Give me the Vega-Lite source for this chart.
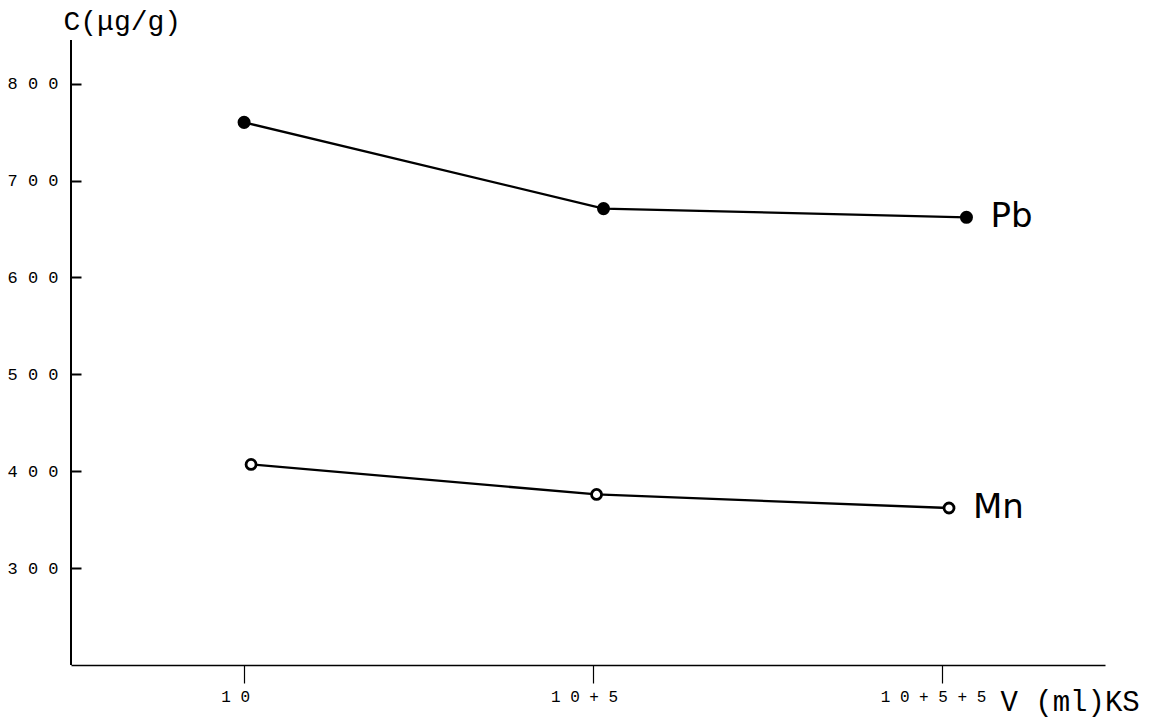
{
  "$schema": "https://vega.github.io/schema/vega-lite/v6.json",
  "width": 1034,
  "height": 625,
  "autosize": "none",
  "padding": {"left": 71, "top": 40, "right": 64, "bottom": 55},
  "background": "white",
  "config": {"view": {"stroke": null}},
  "data": {"values": [
    {"metal": "Pb", "x": 1.0, "volume": "10", "c": 760, "last": false},
    {"metal": "Pb", "x": 2.03, "volume": "10+5", "c": 671, "last": false},
    {"metal": "Pb", "x": 3.07, "volume": "10+5+5", "c": 662, "last": true},
    {"metal": "Mn", "x": 1.02, "volume": "10", "c": 407, "last": false},
    {"metal": "Mn", "x": 2.01, "volume": "10+5", "c": 376, "last": false},
    {"metal": "Mn", "x": 3.02, "volume": "10+5+5", "c": 362, "last": true}
  ]},
  "encoding": {
    "x": {
      "field": "x", "type": "quantitative",
      "scale": {"domain": [0.504, 3.467], "nice": false, "zero": false},
      "axis": {
        "values": [1, 2, 3],
        "labelExpr": "datum.value == 1 ? '1 0' : datum.value == 2 ? '1 0 + 5' : '1 0 + 5 + 5'",
        "grid": false, "domainColor": "black", "domainWidth": 1.5,
        "tickColor": "black", "tickSize": 18, "tickWidth": 1.2,
        "labelFont": "Liberation Mono", "labelFontSize": 16, "labelColor": "black",
        "labelPadding": 5, "labelOffset": -9,
        "title": "V  (ml)KS", "titleFont": "Liberation Mono", "titleFontSize": 29,
        "titleFontWeight": "normal", "titleColor": "black",
        "titleAnchor": "start", "titleAlign": "left", "titleBaseline": "middle",
        "titleX": 929, "titleY": 36
      }
    },
    "y": {
      "field": "c", "type": "quantitative",
      "scale": {"domain": [200, 845], "nice": false, "zero": false},
      "axis": {
        "values": [300, 400, 500, 600, 700, 800],
        "labelExpr": "join(split(datum.label, ''), ' ')",
        "grid": false, "domain": false, "offset": -10,
        "ticks": true, "tickColor": "black", "tickSize": 10, "tickWidth": 2,
        "labelFont": "Liberation Mono", "labelFontSize": 17, "labelColor": "black",
        "labelPadding": 13,
        "title": "C(μg/g)", "titleFont": "Liberation Mono", "titleFontSize": 28,
        "titleFontWeight": "normal", "titleColor": "black",
        "titleAngle": 0, "titleAlign": "left", "titleBaseline": "middle",
        "titleAnchor": "start", "titleX": -18, "titleY": -19
      }
    }
  },
  "layer": [
    {
      "mark": {"type": "rule", "color": "black", "strokeWidth": 1.5},
      "encoding": {"x": {"datum": 0.504}, "y": null}
    },
    {
      "mark": {"type": "line", "color": "black", "strokeWidth": 2.3},
      "encoding": {"detail": {"field": "metal"}}
    },
    {
      "transform": [{"filter": "datum.metal == 'Pb'"}],
      "mark": {"type": "point", "filled": true, "color": "black", "opacity": 1, "size": 170}
    },
    {
      "transform": [{"filter": "datum.metal == 'Mn'"}],
      "mark": {"type": "point", "filled": true, "fill": "white", "stroke": "black", "strokeWidth": 2.8, "opacity": 1, "size": 100}
    },
    {
      "transform": [{"filter": "datum.last"}],
      "mark": {"type": "text", "align": "left", "baseline": "middle", "dx": 24, "font": "DejaVu Sans", "fontSize": 34, "color": "black"},
      "encoding": {"text": {"field": "metal"}}
    }
  ]
}
